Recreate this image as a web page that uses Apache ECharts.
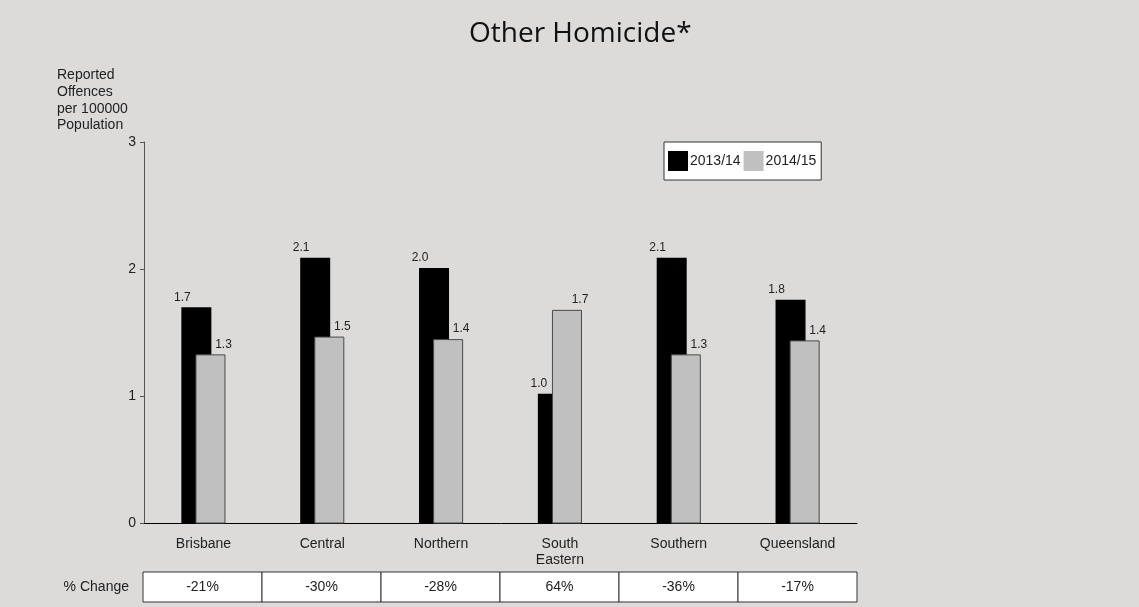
<!DOCTYPE html>
<html>
<head>
<meta charset="utf-8">
<script src="https://cdn.jsdelivr.net/npm/echarts@6/dist/echarts.min.js"></script>
<style>
html,body{margin:0;padding:0;background:#dcdbda;}
#chart{width:1139px;height:607px;}
</style>
</head>
<body>
<div id="chart"></div>
<script>
// ---- data ----
const categories = ['Brisbane', 'Central', 'Northern', 'South\nEastern', 'Southern', 'Queensland'];
const seriesNames = ['2013/14', '2014/15'];
const values201314 = [1.70, 2.09, 2.01, 1.02, 2.09, 1.76];
const values201415 = [1.33, 1.47, 1.45, 1.68, 1.33, 1.44];
const pctChange = ['-21%', '-30%', '-28%', '64%', '-36%', '-17%'];
const yTicks = [0, 1, 2, 3];

const FONT = 'Liberation Sans, Arial, sans-serif';
const chart = echarts.init(document.getElementById('chart'), null, {renderer: 'canvas'});

const option = {
  backgroundColor: '#dcdbda',
  animation: false,
  title: [
    {
      text: 'Other Homicide*',
      left: 464, top: 15,
      textStyle: {fontFamily: 'Open Sans', fontSize: 28, fontWeight: 'normal', color: '#111'}
    },
    {
      text: 'Reported\nOffences\nper 100000\nPopulation',
      left: 57, top: 67, padding: 0,
      textStyle: {fontFamily: FONT, fontSize: 14, lineHeight: 16.7, fontWeight: 'normal', color: '#222'}
    }
  ],
  legend: {
    data: seriesNames,
    left: 664, top: 142,
    orient: 'horizontal',
    itemWidth: 20, itemHeight: 20, itemGap: 3,
    padding: [9, 5, 9, 4],
    backgroundColor: '#ffffff',
    borderColor: '#333', borderWidth: 1,
    icon: 'rect',
    itemStyle: {borderWidth: 0},
    textStyle: {fontFamily: FONT, fontSize: 14, color: '#222', padding: [0, 0, 0, -3]}
  },
  grid: [
    {left: 144, right: 282, top: 142, bottom: 83.5, containLabel: false},
    {left: 143, right: 282, top: 572, height: 30, containLabel: false}
  ],
  xAxis: [
    {
      type: 'category', data: categories, gridIndex: 0,
      axisLine: {lineStyle: {color: '#000', width: 1}},
      axisTick: {show: false},
      axisLabel: {fontFamily: FONT, fontSize: 14, color: '#222', margin: 13, lineHeight: 16, interval: 0}
    },
    {
      type: 'category', data: categories, gridIndex: 1, show: false
    }
  ],
  yAxis: [
    {
      type: 'value', min: yTicks[0], max: yTicks[yTicks.length - 1], interval: 1, gridIndex: 0,
      axisLine: {show: true, lineStyle: {color: '#555', width: 1}},
      axisTick: {show: true, length: 4, lineStyle: {color: '#555'}},
      splitLine: {show: false},
      axisLabel: {fontFamily: FONT, fontSize: 14, color: '#222', margin: 8}
    },
    {
      type: 'value', min: 0, max: 1, gridIndex: 1, show: false
    }
  ],
  graphic: [
    {
      type: 'text', right: 1139 - 129, top: 580,
      style: {text: '% Change', fontFamily: FONT, fontSize: 14, fill: '#222', textAlign: 'right'}
    }
  ],
  series: [
    {
      name: seriesNames[0], type: 'bar', data: values201314,
      barWidth: 30, barGap: '-53%',
      itemStyle: {color: '#000000'},
      label: {
        show: true, position: 'top', distance: 4, offset: [-14, 0],
        fontFamily: FONT, fontSize: 12, color: '#222',
        formatter: p => p.value.toFixed(1)
      }
    },
    {
      name: seriesNames[1], type: 'bar', data: values201415,
      barWidth: 30, barGap: '-53%',
      itemStyle: {color: '#c0c0c0', borderColor: '#4a4a4a', borderWidth: 1},
      label: {
        show: true, position: 'top', distance: 4, offset: [13, 0],
        fontFamily: FONT, fontSize: 12, color: '#222',
        formatter: p => p.value.toFixed(1)
      }
    },
    {
      name: 'pct', type: 'custom', xAxisIndex: 1, yAxisIndex: 1,
      data: pctChange.map((p, i) => [i, p]),
      renderItem: function (params, api) {
        const i = api.value(0);
        const w = api.size([1, 0])[0];
        const t = api.coord([i, 1]);
        const b = api.coord([i, 0]);
        return {
          type: 'group',
          children: [
            {type: 'rect', shape: {x: t[0] - w / 2, y: t[1], width: w, height: b[1] - t[1]},
             style: {fill: '#ffffff', stroke: '#333', lineWidth: 1}},
            {type: 'text', style: {text: pctChange[i], x: t[0], y: (t[1] + b[1]) / 2,
             textAlign: 'center', textVerticalAlign: 'middle', fontFamily: FONT, fontSize: 14, fill: '#222'}}
          ]
        };
      }
    }
  ]
};
chart.setOption(option);
</script>
</body>
</html>
